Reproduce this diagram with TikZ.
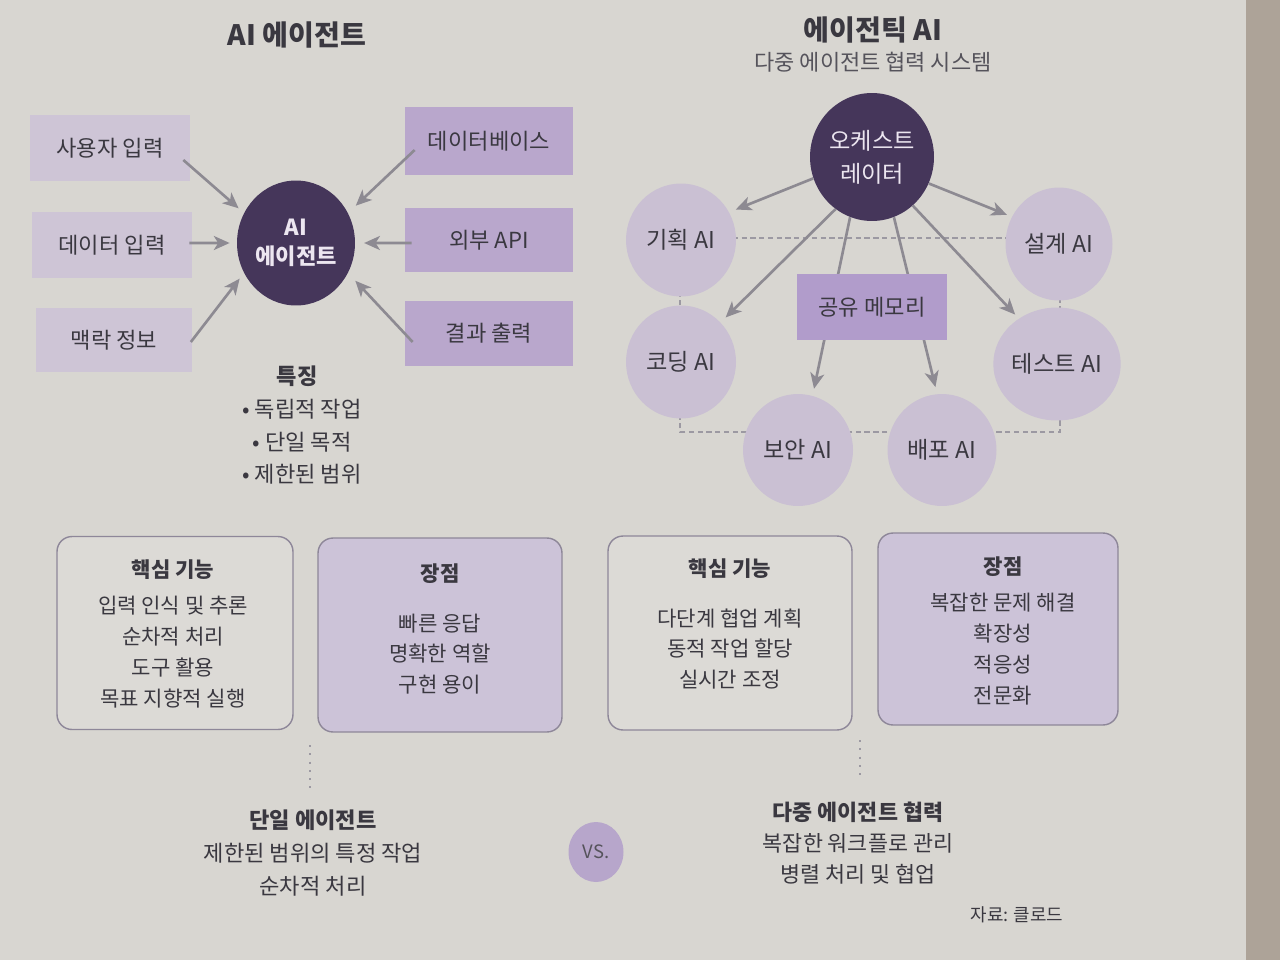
\documentclass[tikz,border=0pt]{standalone}
\usepackage{fontspec}
\setmainfont{Noto Sans CJK KR}
\usetikzlibrary{arrows.meta,shapes.geometric,calc}
\definecolor{bg}{HTML}{D8D6D1}
\definecolor{edgec}{HTML}{ADA398}
\definecolor{txt}{HTML}{3A3840}
\definecolor{subtxt}{HTML}{55535B}
\definecolor{lboxc}{HTML}{CEC5D6}
\definecolor{rboxc}{HTML}{B9A7CC}
\definecolor{memc}{HTML}{B19CCB}
\definecolor{lcircc}{HTML}{CAC0D3}
\definecolor{darkc}{HTML}{45365A}
\definecolor{lighttxt}{HTML}{ECE6F0}
\definecolor{arrc}{HTML}{8D8A92}
\definecolor{dashc}{HTML}{9C99A2}
\definecolor{cardb}{HTML}{8E8799}
\definecolor{cardw}{HTML}{DCDAD6}
\definecolor{cardl}{HTML}{CCC3D8}
\definecolor{vsc}{HTML}{B7A6CB}
\tikzset{
  lbox/.style={rectangle, fill=lboxc, inner sep=0pt, minimum width=3.2cm, minimum height=1.32cm,
    text=txt, font=\fontsize{12.6}{15}\selectfont},
  rbox/.style={lbox, fill=rboxc, minimum width=3.36cm},
  darkball/.style={ellipse, fill=darkc, inner sep=0pt, text=lighttxt, align=center},
  lcirc/.style={ellipse, fill=lcircc, inner sep=0pt, minimum width=2.2cm, minimum height=2.26cm,
    text=txt, font=\fontsize{13.2}{15}\selectfont},
  arr/.style={draw=arrc, line width=1.5pt, -{Stealth[length=9pt,width=8pt,inset=2.5pt]}},
  dashline/.style={draw=dashc, line width=0.8pt, dash pattern=on 3pt off 2pt},
  dotline/.style={draw=dashc, line width=1pt, dash pattern=on 1.2pt off 3.5pt},
  card/.style={rectangle, rounded corners=0.3cm, draw=cardb, line width=0.8pt, inner sep=0pt},
  cardtext/.style={align=center, text=txt, font=\fontsize{12}{17.6}\selectfont},
  title/.style={text=txt, font=\fontsize{16}{19}\selectfont\bfseries},
  plaintext/.style={align=center, text=txt, font=\fontsize{12.6}{18.5}\selectfont}
}
\begin{document}
\begin{tikzpicture}[x=0.02cm,y=-0.02cm]
\path[use as bounding box, fill=bg] (0,0) rectangle (1280,960);
\fill[edgec] (1246,0) rectangle (1280,960);

% ---------------- Left: AI agent ----------------
\node[title] (lt) at (297,35) {AI 에이전트};

\node[lbox] (u) at (110,148) {사용자 입력};
\node[lbox] (d) at (112,245) {데이터 입력};
\node[lbox, minimum width=3.14cm, minimum height=1.28cm] (m) at (114,340) {맥락 정보};
\node[rbox, minimum height=1.36cm] (db) at (489,141) {데이터베이스};
\node[rbox, minimum height=1.3cm] (api) at (489,240) {외부 API};
\node[rbox, minimum height=1.3cm] (out) at (489,333) {결과 출력};

\node[darkball, minimum width=2.36cm, minimum height=2.5cm,
  font=\fontsize{12.6}{16.5}\selectfont\bfseries] (ag) at (296,243) {AI\\에이전트};

\draw[arr, shorten >=4pt] ([xshift=-0.14cm,yshift=-0.24cm]u.east) -- (ag.150);
\draw[arr, shorten >=4pt] ([xshift=-0.06cm,yshift=0.04cm]d.east) -- (ag.west);
\draw[arr, shorten >=4pt] ([xshift=-0.04cm,yshift=-0.04cm]m.east) -- (ag.210);
\draw[arr, shorten >=6pt] ([xshift=0.2cm,yshift=-0.18cm]db.west) -- (ag.30);
\draw[arr, shorten >=5pt] ([xshift=0.14cm,yshift=-0.06cm]api.west) -- (ag.east);
\draw[arr, shorten >=6pt] ([xshift=0.16cm,yshift=-0.18cm]out.west) -- (ag.-30);

\node[plaintext, font=\fontsize{12.6}{18.5}\selectfont\bfseries] (feat) at (297,376) {특징};
\node[plaintext, anchor=north] (featl) at (302,393) {• 독립적 작업\\• 단일 목적\\• 제한된 범위};

% ---------------- Right: agentic AI ----------------
\node[title] (rt) at (873,30) {에이전틱 AI};
\node[text=subtxt, font=\fontsize{12.5}{15}\selectfont] (rst) at (873,62) {다중 에이전트 협력 시스템};

\coordinate (dtl) at (680,238);
\coordinate (dtr) at (1060,238);
\coordinate (dbr) at (1060,432);
\coordinate (dbl) at (680,432);
\draw[dashline] (dtl) -- (dtr) -- (dbr) -- (dbl) -- cycle;

\node[lcirc] (pl) at (681,240) {기획 AI};
\node[lcirc, minimum width=2.14cm] (se) at (1059,244) {설계 AI};
\node[lcirc] (co) at (681,362) {코딩 AI};
\node[lcirc, minimum width=2.14cm] (te) at (1057,364) {테스트 AI};
\node[lcirc, minimum width=2.2cm, minimum height=2.24cm] (bo) at (798,450) {보안 AI};
\node[lcirc, minimum width=2.18cm, minimum height=2.24cm] (bp) at (942,450) {배포 AI};

\node[darkball, minimum width=2.48cm, minimum height=2.56cm,
  font=\fontsize{13.2}{18.7}\selectfont] (oc) at (872,157) {오케스트\\레이터};

\draw[arr, shorten >=4pt] (oc.200) -- (pl.30);
\draw[arr, shorten >=3pt] (oc.-25) -- (se.150);
\draw[arr, shorten >=4pt] (oc.235) -- (co.45);
\draw[arr, shorten >=3pt] (oc.-50) -- (te.130);
\draw[arr, shorten >=4pt] (oc.-110) -- (bo.75);
\draw[arr, shorten >=4pt] (oc.-70) -- (bp.95);

\node[rectangle, fill=memc, minimum width=3.0cm, minimum height=1.32cm, inner sep=0pt,
  text=txt, font=\fontsize{12.6}{15}\selectfont] (mem) at (872,307) {공유 메모리};

% ---------------- Cards ----------------
\node[card, fill=cardw, minimum width=4.72cm, minimum height=3.86cm] (k1) at (175,633) {};
\node[cardtext] (k1t) at (173,634) {\textbf{핵심 기능}\\[2.8pt]입력 인식 및 추론\\순차적 처리\\도구 활용\\목표 지향적 실행};

\node[card, fill=cardl, minimum width=4.88cm, minimum height=3.88cm] (k2) at (440,635) {};
\node[cardtext] (k2t) at (440,629) {\textbf{장점}\\[10.7pt]빠른 응답\\명확한 역할\\구현 용이};

\node[card, fill=cardw, minimum width=4.88cm, minimum height=3.88cm] (k3) at (730,633) {};
\node[cardtext] (k3t) at (730,624) {\textbf{핵심 기능}\\[10.7pt]다단계 협업 계획\\동적 작업 할당\\실시간 조정};

\node[card, fill=cardl, minimum width=4.8cm, minimum height=3.84cm] (k4) at (998,629) {};
\node[cardtext] (k4t) at (1003,631) {\textbf{장점}\\[2.8pt]복잡한 문제 해결\\확장성\\적응성\\전문화};

\coordinate (d1a) at (310,745);
\coordinate (d1b) at (310,790);
\coordinate (d2a) at (860,740);
\coordinate (d2b) at (860,780);
\draw[dotline] (d1a) -- (d1b);
\draw[dotline] (d2a) -- (d2b);

% ---------------- Bottom ----------------
\node[plaintext, font=\fontsize{12.6}{18.7}\selectfont] (bl) at (313,853)
  {\textbf{단일 에이전트}\\제한된 범위의 특정 작업\\순차적 처리};
\node[ellipse, fill=vsc, inner sep=0pt, minimum width=1.1cm, minimum height=1.2cm,
  text=subtxt, font=\fontsize{10.5}{12}\selectfont] (vs) at (596,852) {VS.};
\node[plaintext, font=\fontsize{12.4}{17.6}\selectfont] (br) at (858,843)
  {\textbf{다중 에이전트 협력}\\복잡한 워크플로 관리\\병렬 처리 및 협업};
\node[text=txt, font=\fontsize{10.2}{12}\selectfont] (src) at (1017,915) {자료: 클로드};
\end{tikzpicture}
\end{document}
